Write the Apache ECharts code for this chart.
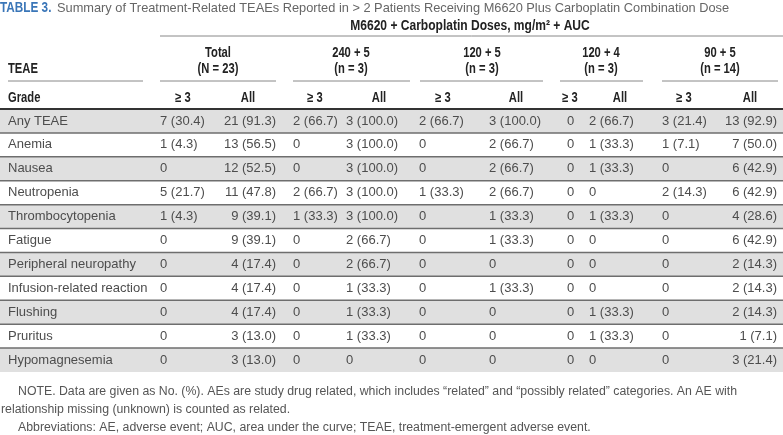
<!DOCTYPE html>
<html>
<head>
<meta charset="utf-8">
<script src="https://cdn.jsdelivr.net/npm/echarts@6/dist/echarts.min.js"></script>
<style>
  html, body { margin: 0; padding: 0; background: #fff; }
  #main { width: 783px; height: 435px; }
</style>
</head>
<body>
<div id="main"></div>
<script>
// rows of the table
var teae = ['Any TEAE', 'Anemia', 'Nausea', 'Neutropenia', 'Thrombocytopenia', 'Fatigue',
  'Peripheral neuropathy', 'Infusion-related reaction', 'Flushing', 'Pruritus', 'Hypomagnesemia']

// values, No. (%)
var totalGe3 = ['7 (30.4)', '1 (4.3)', '0', '5 (21.7)', '1 (4.3)', '0', '0', '0', '0', '0', '0']
var totalAll = ['21 (91.3)', '13 (56.5)', '12 (52.5)', '11 (47.8)', '9 (39.1)', '9 (39.1)', '4 (17.4)', '4 (17.4)', '4 (17.4)', '3 (13.0)', '3 (13.0)']
var d240Ge3 = ['2 (66.7)', '0', '0', '2 (66.7)', '1 (33.3)', '0', '0', '0', '0', '0', '0']
var d240All = ['3 (100.0)', '3 (100.0)', '3 (100.0)', '3 (100.0)', '3 (100.0)', '2 (66.7)', '2 (66.7)', '1 (33.3)', '1 (33.3)', '1 (33.3)', '0']
var d1205Ge3 = ['2 (66.7)', '0', '0', '1 (33.3)', '0', '0', '0', '0', '0', '0', '0']
var d1205All = ['3 (100.0)', '2 (66.7)', '2 (66.7)', '2 (66.7)', '1 (33.3)', '1 (33.3)', '0', '1 (33.3)', '0', '0', '0']
var d1204Ge3 = ['0', '0', '0', '0', '0', '0', '0', '0', '0', '0', '0']
var d1204All = ['2 (66.7)', '1 (33.3)', '1 (33.3)', '0', '1 (33.3)', '0', '0', '0', '1 (33.3)', '1 (33.3)', '0']
var d90Ge3 = ['3 (21.4)', '1 (7.1)', '0', '2 (14.3)', '0', '0', '0', '0', '0', '0', '0']
var d90All = ['13 (92.9)', '7 (50.0)', '6 (42.9)', '6 (42.9)', '4 (28.6)', '6 (42.9)', '2 (14.3)', '2 (14.3)', '2 (14.3)', '1 (7.1)', '3 (21.4)']

// header labels
var groupTitles = ['Total', '240 + 5', '120 + 5', '120 + 4', '90 + 5']
var groupSizes = ['(N = 23)', '(n = 3)', '(n = 3)', '(n = 3)', '(n = 14)']
var gradeLabels = ['\u2265 3', 'All', '\u2265 3', 'All', '\u2265 3', 'All', '\u2265 3', 'All', '\u2265 3', 'All']

var bodyFont = '13px "Liberation Sans", Arial, sans-serif'
var headFont = 'bold 14px "Liberation Sans", Arial, sans-serif'
var bodyColor = '#4d4d4d'
var headColor = '#222'
var narrow = 0.8

// column layout (x anchor, alignment)
var columns = [
  { data: totalGe3, x: 160, align: 'left' },
  { data: totalAll, x: 276, align: 'right' },
  { data: d240Ge3, x: 293, align: 'left' },
  { data: d240All, x: 346, align: 'left' },
  { data: d1205Ge3, x: 419, align: 'left' },
  { data: d1205All, x: 489, align: 'left' },
  { data: d1204Ge3, x: 567, align: 'left' },
  { data: d1204All, x: 589, align: 'left' },
  { data: d90Ge3, x: 662, align: 'left' },
  { data: d90All, x: 777, align: 'right' }
]
var groupSpans = [[160, 276, 218], [293, 410, 351], [420, 543, 482], [560, 643, 601], [662, 778, 720]]
var gradeX = [183, 248, 315, 379, 443, 516, 570, 620, 684, 750]

var chart = echarts.init(document.getElementById('main'))

var graphics = []
function txt (x, y, s, font, color, align, sx) {
  graphics.push({
    type: 'text', x: x, y: y, scaleX: sx || 1, silent: true,
    style: { text: s, font: font, fill: color, align: align || 'left', verticalAlign: 'middle' }
  })
}
function hline (x1, x2, y, w, color) {
  graphics.push({
    type: 'line', silent: true,
    shape: { x1: x1, y1: y, x2: x2, y2: y },
    style: { stroke: color, lineWidth: w }
  })
}

// title
txt(0, 8, 'TABLE 3.', 'bold 14px "Liberation Sans", Arial, sans-serif', '#3a76b8', 'left', 0.84)
txt(57, 8, 'Summary of Treatment-Related TEAEs Reported in > 2 Patients Receiving M6620 Plus Carboplatin Combination Dose',
  '12.8px "Liberation Sans", Arial, sans-serif', '#666')
txt(470, 26, 'M6620 + Carboplatin Doses, mg/m\u00b2 + AUC', headFont, headColor, 'center', 0.86)
hline(160, 783, 36, 1, '#888')

groupTitles.forEach(function (t, i) {
  var s = groupSpans[i]
  txt(s[2], 53, t, headFont, headColor, 'center', narrow)
  txt(s[2], 69, groupSizes[i], headFont, headColor, 'center', narrow)
  hline(s[0], s[1], 81, 1, '#888')
})
txt(8, 69, 'TEAE', headFont, headColor, 'left', narrow)
hline(8, 143, 81, 1, '#888')
txt(8, 98, 'Grade', headFont, headColor, 'left', narrow)
gradeLabels.forEach(function (g, i) {
  txt(gradeX[i], 98, g, headFont, headColor, 'center', narrow)
})

// footnotes
var noteFont = '12.3px "Liberation Sans", Arial, sans-serif'
txt(18, 392, 'NOTE. Data are given as No. (%). AEs are study drug related, which includes \u201crelated\u201d and \u201cpossibly related\u201d categories. An AE with', noteFont, '#555')
txt(1, 410, 'relationship missing (unknown) is counted as related.', noteFont, '#555')
txt(18, 428, 'Abbreviations: AE, adverse event; AUC, area under the curve; TEAE, treatment-emergent adverse event.', noteFont, '#555')

var option = {
  animation: false,
  grid: { left: 0, right: 0, top: 109, height: 263 },
  xAxis: { type: 'value', min: 0, max: 783, show: false },
  yAxis: { type: 'category', data: teae, inverse: true, show: false },
  graphic: graphics,
  series: [{
    type: 'custom',
    silent: true,
    data: teae.map(function (n, i) { return [0, i] }),
    encode: { x: 0, y: 1 },
    renderItem: function (params, api) {
      var i = params.dataIndex
      var c = api.coord([0, i])
      var h = api.size([0, 1])[1]
      var top = c[1] - h / 2
      var children = []
      if (i % 2 === 0) {
        children.push({ type: 'rect', shape: { x: 0, y: top, width: 783, height: h }, style: { fill: '#e0e0e0' } })
      }
      children.push({
        type: 'line',
        shape: { x1: 0, y1: top, x2: 783, y2: top },
        style: { stroke: i === 0 ? '#333' : '#6e6e6e', lineWidth: i === 0 ? 2 : 1.5 }
      })
      children.push({
        type: 'text',
        style: { text: teae[i], x: api.coord([8, i])[0], y: c[1], font: bodyFont, fill: bodyColor, verticalAlign: 'middle' }
      })
      columns.forEach(function (col) {
        children.push({
          type: 'text',
          style: { text: col.data[i], x: api.coord([col.x, i])[0], y: c[1], font: bodyFont, fill: bodyColor, align: col.align, verticalAlign: 'middle' }
        })
      })
      return { type: 'group', children: children }
    }
  }]
}
chart.setOption(option)
</script>
</body>
</html>
